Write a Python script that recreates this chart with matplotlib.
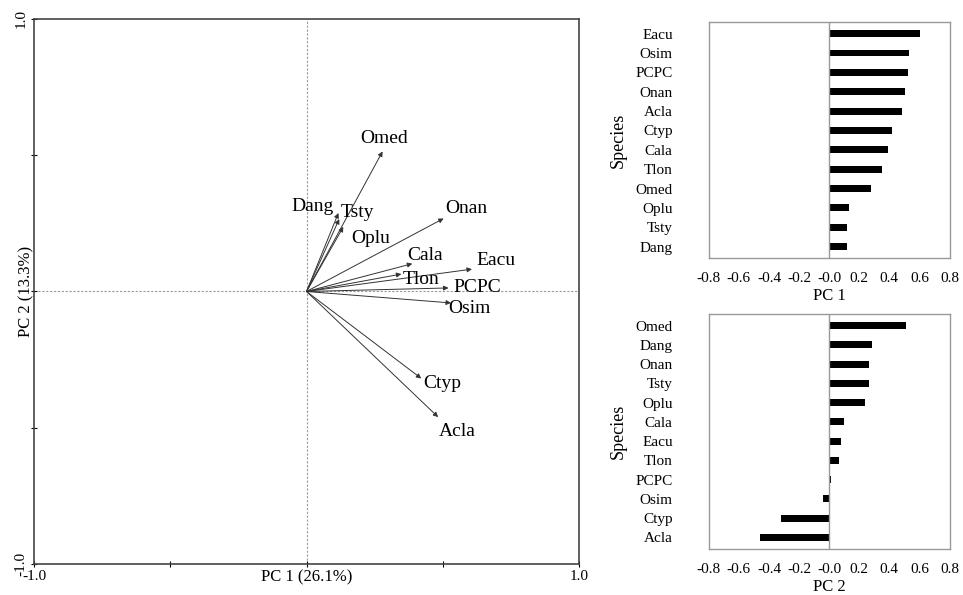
import matplotlib
matplotlib.use('Agg')
import matplotlib.pyplot as plt
import numpy as np

plt.rcParams['font.family'] = ['Liberation Serif', 'DejaVu Serif']

# loadings
species = ['Eacu', 'Osim', 'PCPC', 'Onan', 'Acla', 'Ctyp', 'Cala', 'Tlon',
           'Omed', 'Oplu', 'Tsty', 'Dang']
pc1 = [0.607, 0.530, 0.521, 0.503, 0.483, 0.421, 0.388, 0.348,
       0.279, 0.135, 0.120, 0.117]
pc2_by_sp = {'Omed': 0.514, 'Dang': 0.288, 'Onan': 0.268, 'Tsty': 0.266,
             'Oplu': 0.237, 'Cala': 0.102, 'Eacu': 0.082, 'Tlon': 0.064,
             'PCPC': 0.013, 'Osim': -0.042, 'Ctyp': -0.319, 'Acla': -0.461}
pc2 = [pc2_by_sp[s] for s in species]

pc2_order = ['Omed', 'Dang', 'Onan', 'Tsty', 'Oplu', 'Cala', 'Eacu', 'Tlon',
             'PCPC', 'Osim', 'Ctyp', 'Acla']

# label offsets (points) relative to arrow tips
offsets = {'Omed': (1, 9), 'Dang': (-19, 5), 'Tsty': (13, 5), 'Oplu': (20, -8),
           'Onan': (16, 7), 'Cala': (9, 6), 'Eacu': (17, 6), 'Tlon': (14, -4),
           'PCPC': (21, 0), 'Osim': (13, -4), 'Ctyp': (15, -4), 'Acla': (14, -10)}

fig = plt.figure(figsize=(9.63, 5.95), dpi=100)

ax = fig.add_axes([0.0353, 0.0521, 0.566, 0.916])
ax.set_xlim(-1, 1)
ax.set_ylim(-1, 1)
ax.axhline(0, color='#999999', lw=0.8, ls=(0, (2, 1.5)), zorder=0)
ax.axvline(0, color='#999999', lw=0.8, ls=(0, (2, 1.5)), zorder=0)
for s, x, y in zip(species, pc1, pc2):
    ax.annotate('', xy=(x, y), xytext=(0, 0),
                arrowprops=dict(arrowstyle='-|>', lw=0.7, color='#333333',
                                mutation_scale=7, shrinkA=0, shrinkB=0))
    dx, dy = offsets[s]
    ax.annotate(s, xy=(x, y), xytext=(dx, dy), textcoords='offset points',
                ha='center', va='center', fontsize=14)
ax.set_xticks([-1, -0.5, 0, 0.5, 1])
ax.set_xticklabels(['-1.0', '', '', '', '1.0'])
ax.set_yticks([-1, -0.5, 0, 0.5, 1])
ax.set_yticklabels(['-1.0', '', '', '', '1.0'], rotation=90, va='center')
ax.tick_params(direction='inout', length=5, width=0.8, labelsize=11, pad=2)
ax.set_xlabel('PC 1 (26.1%)', fontsize=12, labelpad=-10)
ax.set_ylabel('PC 2 (13.3%)', fontsize=12, labelpad=-14)
for sp in ax.spines.values():
    sp.set_color('#444444')
    sp.set_linewidth(1.2)

def bar_panel(rect, names, vals, xlabel):
    b = fig.add_axes(rect)
    ypos = np.arange(len(names))[::-1]
    b.barh(ypos, vals, height=0.36, color='black')
    b.axvline(0, color='#999999', lw=1.0)
    b.set_xlim(-0.8, 0.8)
    b.set_ylim(-0.6, len(names) - 0.4)
    b.set_yticks(ypos)
    b.set_yticklabels(names)
    b.set_xticks(np.arange(-0.8, 0.81, 0.2))
    b.set_xticklabels(['%.1f' % v for v in np.arange(-0.8, 0.81, 0.2)])
    b.tick_params(axis='x', length=0, labelsize=11, pad=10)
    b.tick_params(axis='y', length=0, labelsize=11, pad=26)
    b.set_xlabel(xlabel, fontsize=12, labelpad=2)
    b.set_ylabel('Species', fontsize=13, labelpad=6)
    for sp in b.spines.values():
        sp.set_color('#999999')
        sp.set_linewidth(1.0)
    return b

bar_panel([0.736, 0.566, 0.250, 0.397], species, pc1, 'PC 1')
bar_panel([0.736, 0.0773, 0.250, 0.395], pc2_order,
          [pc2_by_sp[s] for s in pc2_order], 'PC 2')

plt.savefig('out.png', dpi=100)
